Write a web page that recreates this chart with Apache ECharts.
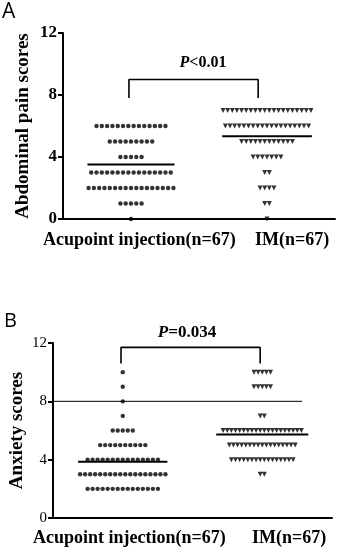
<!DOCTYPE html>
<html>
<head>
<meta charset="utf-8">
<script src="https://cdn.jsdelivr.net/npm/echarts@6/dist/echarts.min.js"></script>
<style>
  html, body { margin: 0; padding: 0; background: #fff; }
  #chart { width: 337px; height: 552px; }
</style>
</head>
<body>
<div id="chart"></div>
<script>
// group names
const groupNames = ['Acupoint injection(n=67)', 'IM(n=67)']

// panel A: abdominal pain, number of patients at each score
const painScores = [0, 1, 2, 3, 4, 5, 6, 7]
const painAcupointCounts = [1, 5, 17, 16, 5, 9, 14, 0]
const painIMCounts = [1, 2, 4, 2, 7, 12, 19, 20]

// panel B: anxiety, number of patients at each score
const anxietyScores = [2, 3, 4, 5, 6, 7, 8, 9, 10]
const anxietyAcupointCounts = [15, 18, 15, 10, 5, 1, 1, 1, 1]
const anxietyIMCounts = [0, 2, 16, 17, 20, 2, 0, 5, 5]

const yTicks = [0, 4, 8, 12]
const pLabels = ['<0.01', '=0.034']
const anxietyRefLine = 8

const serif = '"Liberation Serif", "Times New Roman", serif'

// spread points of one score sideways around the group centre
const swarm = (scores, counts, centre, step) => {
  const pts = []
  scores.forEach((s, k) => {
    const n = counts[k]
    for (let i = 0; i < n; i++) pts.push([centre + (i - (n - 1) / 2) * step, s])
  })
  return pts
}

const mean = (scores, counts) => {
  let sum = 0, n = 0
  scores.forEach((s, k) => { sum += s * counts[k]; n += counts[k] })
  return sum / n
}

const dotStyle = { color: '#000' }

const panel = (idx, scores, acuCounts, imCounts, acuStep, imStep, bracket) => {
  const acuMean = mean(scores, acuCounts)
  const imMean = mean(scores, imCounts)
  const line = (data, w) => ({
    type: 'line', xAxisIndex: idx, yAxisIndex: idx, data,
    symbol: 'none', silent: true,
    lineStyle: { color: '#000', width: w }
  })
  return [
    {
      type: 'scatter', xAxisIndex: idx, yAxisIndex: idx,
      data: swarm(scores, acuCounts, 1, acuStep),
      symbol: 'circle', symbolSize: 4.4, itemStyle: dotStyle
    },
    {
      type: 'scatter', xAxisIndex: idx, yAxisIndex: idx,
      data: swarm(scores, imCounts, 3, imStep),
      symbol: 'triangle', symbolRotate: 180, symbolSize: [5, 5], itemStyle: dotStyle
    },
    line([[1 - 0.64, acuMean], [1 + 0.64, acuMean]], 2),
    line([[3 - 0.66, imMean], [3 + 0.66, imMean]], 2),
    line([[bracket.l, bracket.b], [bracket.l, bracket.t], [bracket.r, bracket.t], [bracket.r, bracket.b]], 1.6)
  ]
}

const xAxisBase = (idx) => ({
  gridIndex: idx, type: 'value', min: 0, max: 4,
  axisLine: { show: true, onZero: false, lineStyle: { color: '#000', width: 2 } },
  axisTick: { show: false }, axisLabel: { show: false }, splitLine: { show: false }
})

const yAxisBase = (idx, name, labelFont) => ({
  gridIndex: idx, type: 'value', min: 0, max: 12, interval: 4,
  name, nameLocation: 'middle', nameRotate: 90, nameGap: idx === 0 ? 30 : 26,
  nameMoveOverlap: false,
  nameTextStyle: { fontFamily: serif, fontWeight: 'bold', fontSize: 19, color: '#000' },
  axisLine: { show: true, lineStyle: { color: '#000', width: 2 } },
  axisTick: { show: true, length: 5, lineStyle: { color: '#000', width: 2 } },
  axisLabel: Object.assign({ color: '#000', fontFamily: serif, margin: 6 }, labelFont),
  splitLine: { show: false }
})

const pText = (x, y, text, size) => ({
  type: 'text', x, y,
  style: {
    text: '{i|P}{b|' + text + '}',
    align: 'center', verticalAlign: 'middle',
    rich: {
      i: { fontFamily: serif, fontStyle: 'italic', fontWeight: 'bold', fontSize: size, fill: '#000' },
      b: { fontFamily: serif, fontWeight: 'bold', fontSize: size, fill: '#000' }
    }
  }
})

const label = (x, y, text, size) => ({
  type: 'text', x, y,
  style: { text, font: 'bold ' + size + 'px ' + serif, fill: '#000', align: 'left', verticalAlign: 'middle' }
})

const chart = echarts.init(document.getElementById('chart'))
chart.setOption({
  animation: false,
  backgroundColor: '#fff',
  grid: [
    { left: 63, top: 33, width: 272, height: 186, outerBoundsMode: 'none' },
    { left: 53, top: 343, width: 279, height: 175, outerBoundsMode: 'none' }
  ],
  xAxis: [xAxisBase(0), xAxisBase(1)],
  yAxis: [
    yAxisBase(0, 'Abdominal pain scores', { fontWeight: 'bold', fontSize: 17 }),
    yAxisBase(1, 'Anxiety scores', { fontWeight: 'normal', fontSize: 15 })
  ],
  series: [
    ...panel(0, painScores, painAcupointCounts, painIMCounts, 0.078, 0.068,
      { l: 0.97, r: 2.87, t: 9, b: 7.8 }),
    ...panel(1, anxietyScores, anxietyAcupointCounts, anxietyIMCounts, 0.072, 0.059,
      { l: 0.975, r: 2.97, t: 11.7, b: 10.6 }),
    {
      type: 'line', xAxisIndex: 1, yAxisIndex: 1, symbol: 'none', silent: true,
      data: [[0, anxietyRefLine], [3.57, anxietyRefLine]],
      lineStyle: { color: '#000', width: 1 }
    }
  ],
  graphic: [
    { type: 'text', x: 2, y: 12, style: { text: 'A', font: '21px "Open Sans", sans-serif', fill: '#000', verticalAlign: 'middle' } },
    { type: 'text', x: 4, y: 321, style: { text: 'B', font: '20px "Open Sans", sans-serif', fill: '#000', verticalAlign: 'middle' } },
    pText(203, 63, pLabels[0], 16),
    pText(187, 333, pLabels[1], 17),
    label(43, 240, groupNames[0], 18),
    label(255, 240, groupNames[1], 18),
    label(33, 538, groupNames[0], 18),
    label(252, 538, groupNames[1], 18)
  ]
})
</script>
</body>
</html>
